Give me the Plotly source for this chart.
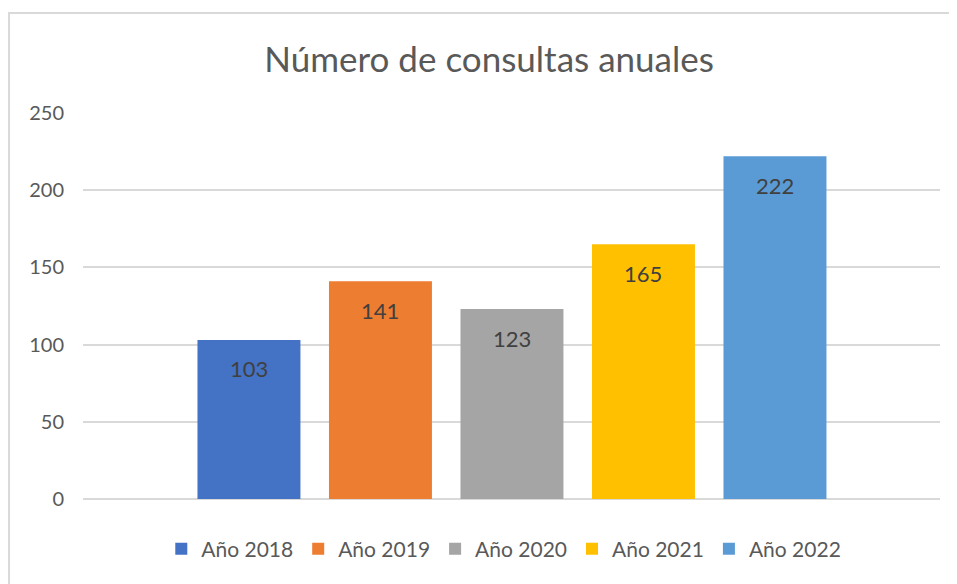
import plotly.graph_objects as go

# datos del gráfico
anios = ['Año 2018', 'Año 2019', 'Año 2020', 'Año 2021', 'Año 2022']
consultas = [103, 141, 123, 165, 222]
colores = ['#4472C4', '#ED7D31', '#A5A5A5', '#FFC000', '#5B9BD5']
ticks_y = [0, 50, 100, 150, 200, 250]

FUENTE = 'Lato'

fig = go.Figure()

# una traza por año para que cada uno salga en la leyenda
for anio, valor, color in zip(anios, consultas, colores):
    fig.add_trace(go.Bar(
        x=[anio], y=[valor], name=anio,
        marker=dict(color=color, line=dict(width=0)),
        hoverinfo='x+y'
    ))
    # etiqueta de valor dentro de la barra, cerca del extremo
    fig.add_annotation(
        x=anio, y=valor, text=str(valor), showarrow=False,
        yanchor='middle', yshift=-29,
        font=dict(family=FUENTE, size=22, color='#404040')
    )

# marco exterior del gráfico
fig.add_shape(
    type='rect', xref='paper', yref='paper',
    x0=-0.0863, x1=1.06, y0=-0.3, y1=1.259,
    line=dict(color='#D9D9D9', width=2), fillcolor='rgba(0,0,0,0)',
    layer='below'
)

fig.update_layout(
    title=dict(
        text='Número de consultas anuales', x=0.507, xanchor='center',
        y=0.91, yanchor='middle',
        font=dict(family=FUENTE, size=35, color='#595959')
    ),
    barmode='overlay',
    bargap=0.217,
    xaxis=dict(
        type='category', range=[-1.262, 5.255],
        showticklabels=False, showgrid=False, zeroline=False,
        showline=False, fixedrange=True
    ),
    yaxis=dict(
        range=[0, 250], tickvals=ticks_y, showgrid=True,
        gridcolor='#D9D9D9', gridwidth=1.5, zeroline=True,
        zerolinecolor='#D9D9D9', zerolinewidth=1.5, showline=False,
        ticks='', ticklabelstandoff=18,
        tickfont=dict(family=FUENTE, size=20, color='#595959')
    ),
    legend=dict(
        orientation='h', x=0.491, xanchor='center', y=-0.13, yanchor='middle',
        font=dict(family=FUENTE, size=21, color='#595959'),
        itemwidth=30, traceorder='normal'
    ),
    plot_bgcolor='white', paper_bgcolor='white',
    margin=dict(l=75, r=17, t=105, b=85),
    width=949, height=576,
    showlegend=True
)

fig.write_html('out.html')
